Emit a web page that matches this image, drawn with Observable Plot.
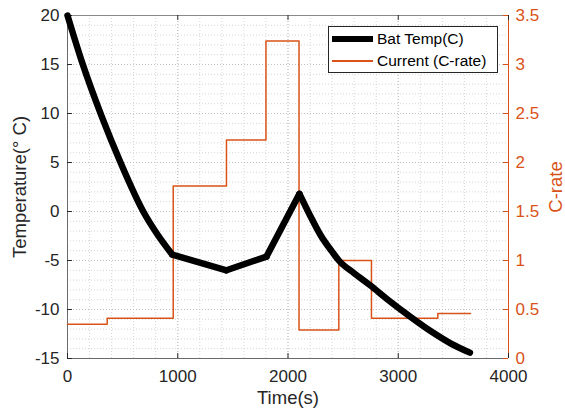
<!DOCTYPE html>
<html>
<head>
<meta charset="utf-8">
<script src="https://cdn.jsdelivr.net/npm/d3@7"></script>
<script src="https://cdn.jsdelivr.net/npm/@observablehq/plot@0.6"></script>
<style>
  body { margin: 0; background: #fff; font-family: "Liberation Sans", Arial, sans-serif; }
  #wrap { position: relative; width: 565px; height: 414px; }
  #legend { position: absolute; left: 328px; top: 26px; width: 170px; height: 47px; box-sizing: border-box;
            border: 1px solid #262626; background: #fff; font-size: 15.5px; color: #000; }
  .sw { position: absolute; left: 3px; width: 41px; }
  .lbl { position: absolute; left: 48px; white-space: nowrap; line-height: 20px; }
</style>
</head>
<body>
<div id="wrap">
  <div id="chart"></div>
  <div id="legend"></div>
</div>
<script>
// Battery temperature (°C) vs time (s); segment ids split the curve at its kinks
const tempTime  = [0, 130, 310, 481, 687, 813, 950, 1442, 1805, 2104, 2200, 2300, 2400, 2461, 2600, 2748, 2900, 3111, 3300, 3474, 3650];
const tempValue = [20, 15.3, 9.7, 5.0, 0, -2.3, -4.4, -6.0, -4.6, 1.8, -0.4, -2.5, -4.1, -5.0, -6.3, -7.55, -8.95, -10.75, -12.25, -13.45, -14.4];
const segBreaks = [950, 1442, 1805, 2104]; // times where the curve has corners

// Current (C-rate) step profile: level starts at stepTime[i]
const stepTime = [0, 360, 959, 1442, 1800, 2100, 2461, 2757, 3359, 3655];
const stepRate = [0.35, 0.41, 1.76, 2.23, 3.24, 0.29, 1.0, 0.41, 0.46, 0.46];

// Axis ticks
const xTicks = [0, 1000, 2000, 3000, 4000];
const yTicks = [-15, -10, -5, 0, 5, 10, 15, 20];
const rateTicks = [0, 0.5, 1, 1.5, 2, 2.5, 3, 3.5];
const xMinor = d3.range(0, 4001, 200);
const yMinor = d3.range(-15, 20.1, 1);

const legendLabels = ["Bat Temp(C)", "Current (C-rate)"];
const orange = "#D95319";

// C-rate axis (0..3.5) shares the frame with temperature (-15..20)
const rateToTemp = r => -15 + r * 10;

// build segments (each segment includes its end points so they join)
const temps = [];
const bounds = [0, ...segBreaks, Infinity];
for (let s = 0; s < bounds.length - 1; s++) {
  tempTime.forEach((t, i) => {
    if (t >= bounds[s] && t <= bounds[s + 1]) temps.push({t, v: tempValue[i], seg: s});
  });
}
const steps = stepTime.map((t, i) => ({t, v: rateToTemp(stepRate[i])}));

const fmt = d => String(+d.toFixed(2));

const chart = Plot.plot({
  width: 565,
  height: 414,
  marginLeft: 67,
  marginRight: 57,
  marginTop: 15,
  marginBottom: 56,
  style: { fontFamily: "'Liberation Sans', Arial, sans-serif", fontSize: "17px", background: "#fff" },
  x: { domain: [0, 4000] },
  y: { domain: [-15, 20] },
  marks: [
    // minor grid
    Plot.ruleX(xMinor, { stroke: "#d6d6d6", strokeDasharray: "1,2" }),
    Plot.ruleY(yMinor, { stroke: "#d6d6d6", strokeDasharray: "1,2" }),
    // major grid
    Plot.ruleX(xTicks, { stroke: "#c0c0c0", strokeDasharray: "1,2" }),
    Plot.ruleY(yTicks, { stroke: "#c0c0c0", strokeDasharray: "1,2" }),
    // box
    Plot.ruleY([20], { stroke: "#8a8a8a" }),
    Plot.ruleY([-15], { stroke: "#6a6a6a" }),
    Plot.ruleX([0], { stroke: "#6a6a6a" }),
    Plot.ruleX([4000], { stroke: orange }),
    // inward ticks
    Plot.ruleX(xTicks, { y1: -15, y2: -14.5, stroke: "#262626" }),
    Plot.ruleX(xTicks, { y1: 20, y2: 19.5, stroke: "#262626" }),
    Plot.ruleY(yTicks, { x1: 0, x2: 45, stroke: "#262626" }),
    Plot.ruleY(rateTicks.map(rateToTemp), { x1: 3955, x2: 4000, stroke: orange }),
    // tick labels
    Plot.axisX({ ticks: xTicks, tickSize: 0, tickPadding: 11, tickFormat: d => String(d), label: null, color: "#262626" }),
    Plot.axisY({ anchor: "left", ticks: yTicks, tickSize: 0, tickPadding: 8, tickFormat: d => String(d), label: null, color: "#262626" }),
    Plot.axisY({ anchor: "right", ticks: rateTicks.map(rateToTemp), tickSize: 0, tickPadding: 7,
                 tickFormat: d => fmt((d + 15) / 10), label: null, color: orange }),
    // data
    Plot.line(steps, { x: "t", y: "v", curve: "step-after", stroke: orange, strokeWidth: 1.5 }),
    Plot.line(temps, { x: "t", y: "v", z: "seg", curve: "monotone-x", stroke: "#000", strokeWidth: 6.5,
                       strokeLinejoin: "round", strokeLinecap: "round" }),
    // axis titles
    Plot.text(["Time(s)"], { frameAnchor: "bottom", dy: 40, textAnchor: "middle", lineAnchor: "middle", fontSize: 18.5, fill: "#262626" }),
    Plot.text(["Temperature(° C)"], { frameAnchor: "left", dx: -47, rotate: -90, textAnchor: "middle", lineAnchor: "middle", fontSize: 18.5, fill: "#262626" }),
    Plot.text(["C-rate"], { frameAnchor: "right", dx: 48, rotate: -90, textAnchor: "middle", lineAnchor: "middle", fontSize: 18.5, fill: orange })
  ]
});
document.getElementById("chart").appendChild(chart);

// Legend
const legend = document.getElementById("legend");
const swatches = [
  { h: 6, color: "#000" },
  { h: 1.5, color: orange }
];
legendLabels.forEach((label, i) => {
  const sw = swatches[i];
  const rowTop = i === 0 ? 2 : 24;
  const s = document.createElement("div");
  s.className = "sw";
  s.style.top = (rowTop + 10 - sw.h / 2) + "px";
  s.style.height = sw.h + "px";
  s.style.background = sw.color;
  legend.appendChild(s);
  const t = document.createElement("div");
  t.className = "lbl";
  t.style.top = rowTop + "px";
  t.textContent = label;
  legend.appendChild(t);
});
</script>
</body>
</html>
